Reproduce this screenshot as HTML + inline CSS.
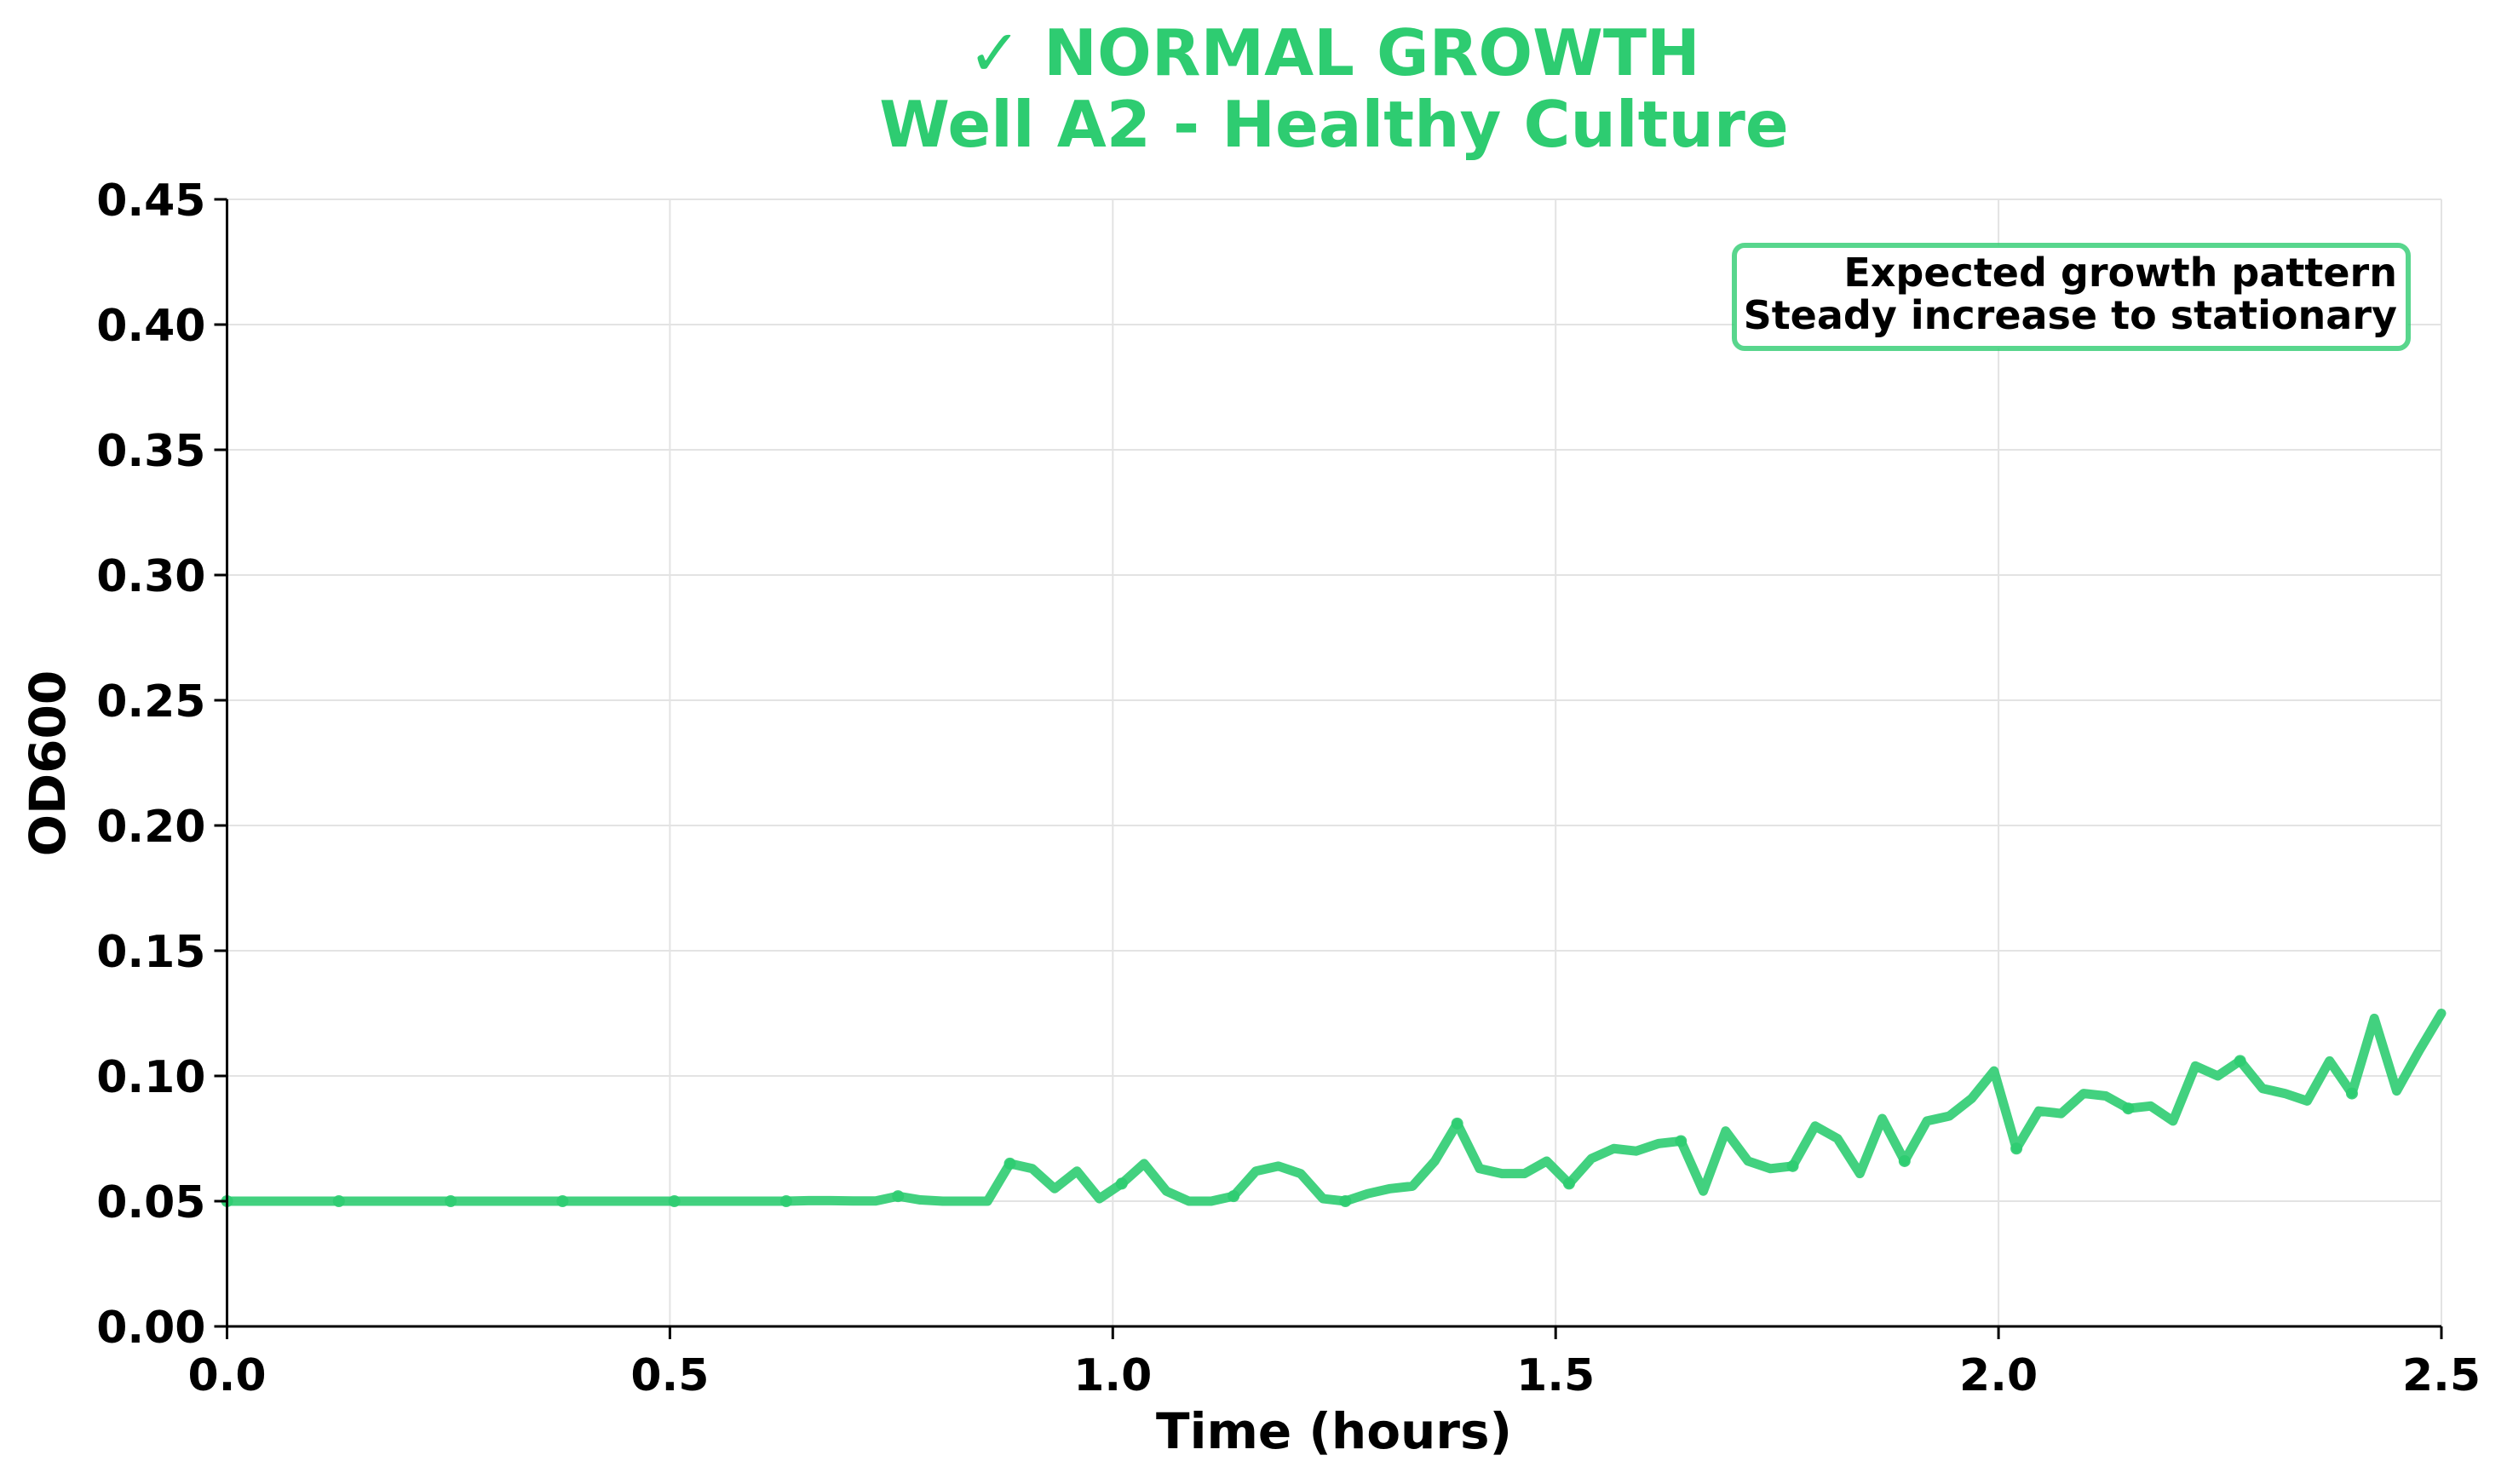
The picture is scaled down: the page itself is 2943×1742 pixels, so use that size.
<!DOCTYPE html>
<html><head><meta charset="utf-8"><style>
html,body{margin:0;padding:0;background:#fff;}
svg{display:block;font-family:"DejaVu Sans","Liberation Sans",sans-serif;font-weight:bold;}
</style></head><body>
<svg id="chart" width="2943" height="1742" viewBox="0 0 2943 1742" xmlns="http://www.w3.org/2000/svg">
<text x="1566" y="88" text-anchor="middle" font-size="75" fill="#2ecc71">✓ NORMAL GROWTH</text>
<text x="1566" y="172" text-anchor="middle" font-size="75" fill="#2ecc71">Well A2 - Healthy Culture</text>
<g id="grid"></g>
<g id="series"></g>
<g id="axes"></g>
<g>
<rect x="2036" y="288" width="791" height="121" rx="12" fill="#fff" stroke="#2ecc71" stroke-opacity="0.8" stroke-width="6"/>
<text x="2814" y="336" text-anchor="end" font-size="46" fill="#000">Expected growth pattern</text>
<text x="2814" y="386" text-anchor="end" font-size="46" fill="#000">Steady increase to stationary</text>
</g>
<text x="1566" y="1700" text-anchor="middle" font-size="58" fill="#000">Time (hours)</text>
<text transform="translate(76,896) rotate(-90)" text-anchor="middle" font-size="58" fill="#000">OD600</text>
</svg>
<script>
const od600 = [0.05,0.05,0.05,0.05,0.05,0.05,0.05,0.05,0.05,0.05,
0.05,0.05,0.05,0.05,0.05,0.05,0.05,0.05,0.05,0.05,
0.05,0.05,0.05,0.05,0.05,0.05,0.0502,0.0502,0.0501,0.0501,
0.052,0.0505,0.05,0.05,0.05,0.065,0.063,0.055,0.062,0.051,
0.057,0.065,0.054,0.050,0.050,0.052,0.062,0.064,0.061,0.051,
0.050,0.053,0.055,0.056,0.066,0.081,0.063,0.061,0.061,0.066,
0.057,0.067,0.071,0.070,0.073,0.074,0.054,0.078,0.066,0.063,
0.064,0.080,0.075,0.061,0.083,0.066,0.082,0.084,0.091,0.102,
0.071,0.086,0.085,0.093,0.092,0.087,0.088,0.082,0.104,0.100,
0.106,0.095,0.093,0.090,0.106,0.093,0.123,0.094,0.110,0.125];
const tEnd = 2.5;
const xTicks = [0.0,0.5,1.0,1.5,2.0,2.5];
const xTickLabels = ["0.0","0.5","1.0","1.5","2.0","2.5"];
const yTicks = [0,0.05,0.10,0.15,0.20,0.25,0.30,0.35,0.40,0.45];
const yTickLabels = ["0.00","0.05","0.10","0.15","0.20","0.25","0.30","0.35","0.40","0.45"];
const NS="http://www.w3.org/2000/svg";
const L=266.5,R=2866,T=234,B=1557;
const xs=v=>L+(v/2.5)*(R-L);
const ys=v=>B-(v/0.45)*(B-T);
function mk(tag,a,parent){const e=document.createElementNS(NS,tag);for(const k in a)e.setAttribute(k,a[k]);parent.appendChild(e);return e;}
const grid=document.getElementById('grid'),axes=document.getElementById('axes'),series=document.getElementById('series');
xTicks.forEach((t,i)=>{
 const g=mk('line',{x1:xs(t),x2:xs(t),y1:T,y2:B,stroke:'#e3e3e3','stroke-width':2},grid);
 
 
 const tk=mk('line',{x1:xs(t),x2:xs(t),y1:B,y2:B+15,stroke:'#000','stroke-width':3},axes);
 
 
 const lb=mk('text',{x:xs(t),y:B+75,'text-anchor':'middle','font-size':52,fill:'#000'},axes);
 lb.textContent=xTickLabels[i];
 
 
});
yTicks.forEach((v,i)=>{
 const g=mk('line',{x1:L,x2:R,y1:ys(v),y2:ys(v),stroke:'#e3e3e3','stroke-width':2},grid);
 
 
 const tk=mk('line',{x1:L-15,x2:L,y1:ys(v),y2:ys(v),stroke:'#000','stroke-width':3},axes);
 
 
 const lb=mk('text',{x:L-25,y:ys(v)+19,'text-anchor':'end','font-size':52,fill:'#000'},axes);
 lb.textContent=yTickLabels[i];
 
 
});
const ax1=mk('line',{x1:L,x2:L,y1:T,y2:B+1.5,stroke:'#000','stroke-width':3},axes);


const ax2=mk('line',{x1:L-1.5,x2:R,y1:B,y2:B,stroke:'#000','stroke-width':3},axes);


const n=od600.length;
const pts=od600.map((v,i)=>[xs(i*tEnd/(n-1)),ys(v)]);
const line=mk('polyline',{points:pts.map(p=>p.join(',')).join(' '),fill:'none',stroke:'#2ecc71','stroke-opacity':0.9,'stroke-width':11,'stroke-linejoin':'round','stroke-linecap':'round'},series);


pts.forEach((p,i)=>{ if(i%5===0){
 const c=mk('circle',{cx:p[0],cy:p[1],r:7,fill:'#2ecc71','fill-opacity':0.9},series);
 
 
}});
</script>
</body></html>
